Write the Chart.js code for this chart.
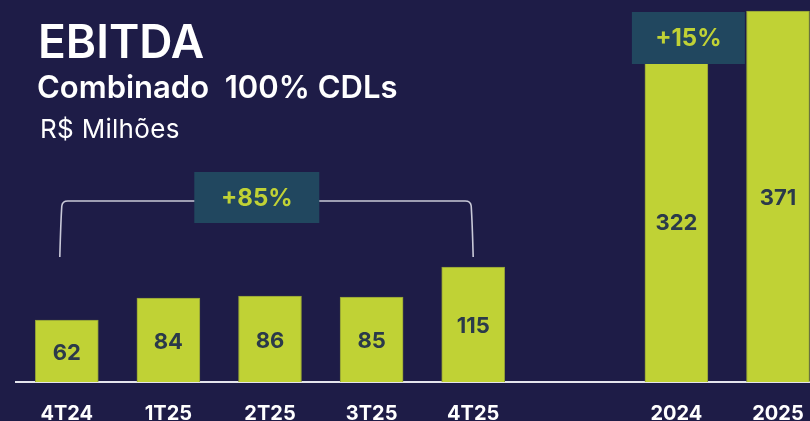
<!DOCTYPE html>
<html lang="pt-BR">
<head>
<meta charset="utf-8">
<title>EBITDA Combinado 100% CDLs</title>
<script src="https://cdn.jsdelivr.net/npm/chart.js@4.4.1/dist/chart.umd.min.js"></script>
<style>
  html, body { margin: 0; padding: 0; background: #1e1c47; overflow: hidden; }
  #wrap { position: relative; width: 810px; height: 421px; }
  #chart { position: absolute; left: 0; top: 0; }
  .hdr { position: absolute; color: #ffffff; font-family: Inter, "Open Sans", sans-serif; white-space: pre; line-height: 1; }
  #t1 { left: 38px; top: 18px; font-size: 46px; font-weight: 600; }
  #t2 { left: 37px; top: 71px; font-size: 31px; font-weight: 600; }
  #t3 { left: 40px; top: 116px; font-size: 26px; font-weight: 400; letter-spacing: 0.3px; }
</style>
</head>
<body>
<div id="wrap">
  <canvas id="chart" width="810" height="421"></canvas>
  <div class="hdr" id="t1">EBITDA</div>
  <div class="hdr" id="t2">Combinado  100% CDLs</div>
  <div class="hdr" id="t3">R$ Milhões</div>
</div>
<script>
// Periods on the x axis (empty slot separates quarters from full years)
const categories = ['4T24', '1T25', '2T25', '3T25', '4T25', '', '2024', '2025'];
// EBITDA, R$ milhões
const values = [62, 84, 86, 85, 115, null, 322, 371];
// Growth call-outs
const growthQuarter = '+85%';
const growthYear = '+15%';

const LIME = '#c0d235';
const LIME_EDGE = '#8f9c38';
const BOX = '#21475f';
const VALUE_TEXT = '#2b3a4a';
const FONT = 'Inter, "Open Sans", sans-serif';

const points = [];
categories.forEach((c, i) => {
  if (values[i] !== null) points.push({ x: i, y: values[i] });
});

// Value labels inside each bar, centred vertically
const valueLabels = {
  id: 'valueLabels',
  afterDatasetsDraw(chart) {
    const { ctx } = chart;
    const meta = chart.getDatasetMeta(0);
    ctx.save();
    ctx.font = `700 22px ${FONT}`;
    ctx.fillStyle = VALUE_TEXT;
    ctx.textAlign = 'center';
    ctx.textBaseline = 'middle';
    meta.data.forEach((bar, k) => {
      const v = points[k].y;
      const midY = (bar.y + bar.base) / 2 + 2;
      ctx.fillText(String(v), bar.x, midY);
    });
    ctx.restore();
  }
};

// Bracket over the quarters and the two growth boxes
const growthMarks = {
  id: 'growthMarks',
  afterDatasetsDraw(chart) {
    const { ctx } = chart;
    const x = chart.scales.x;
    const y = chart.scales.y;

    ctx.save();
    // bracket spanning 4T24 .. 4T25
    const left = x.getPixelForValue(0) - 7;
    const right = x.getPixelForValue(4);
    const top = y.getPixelForValue(181);
    const foot = y.getPixelForValue(125);
    const r = 5;
    ctx.strokeStyle = '#c9c9d8';
    ctx.lineWidth = 1.6;
    ctx.beginPath();
    ctx.moveTo(left, foot);
    ctx.quadraticCurveTo(left + 1, top + 20, left + 2, top + r);
    ctx.quadraticCurveTo(left + 2.5, top, left + r + 3, top);
    ctx.lineTo(right - r - 3, top);
    ctx.quadraticCurveTo(right - 2.5, top, right - 2, top + r);
    ctx.quadraticCurveTo(right - 1, top + 20, right, foot);
    ctx.stroke();

    const drawBox = (cx, boxTop, w, h, text) => {
      ctx.fillStyle = BOX;
      ctx.fillRect(cx - w / 2, boxTop, w, h);
      ctx.fillStyle = LIME;
      ctx.font = `700 24px ${FONT}`;
      ctx.textAlign = 'center';
      ctx.textBaseline = 'middle';
      ctx.fillText(text, cx, boxTop + h / 2 + 1);
    };

    // quarter growth box on the bracket
    drawBox(x.getPixelForValue(1.87), y.getPixelForValue(210), 125, 51, growthQuarter);
    // annual growth box over the 2024 bar
    drawBox(x.getPixelForValue(6) + 12, y.getPixelForValue(370), 113, 52, growthYear);
    ctx.restore();
  }
};

new Chart(document.getElementById('chart'), {
  type: 'bar',
  data: {
    datasets: [{
      data: points,
      backgroundColor: LIME,
      borderColor: LIME_EDGE,
      borderWidth: 1,
      borderSkipped: 'bottom',
      barThickness: 63
    }]
  },
  options: {
    responsive: false,
    animation: false,
    events: [],
    layout: { padding: { left: 16, right: 0, top: 0, bottom: 0 } },
    plugins: { legend: { display: false }, tooltip: { enabled: false } },
    scales: {
      x: {
        type: 'linear',
        offset: false,
        min: -0.5,
        max: 7.315,
        grid: { display: false, drawTicks: false },
        border: { display: true, color: '#e4e4ec', width: 2 },
        afterBuildTicks(scale) {
          scale.ticks = categories
            .map((c, i) => ({ value: i, label: c }))
            .filter(t => t.label !== '');
        },
        afterFit(scale) {
          scale.height = 39;
          scale.paddingLeft = 0;
          scale.paddingRight = 0;
        },
        ticks: {
          autoSkip: false,
          maxRotation: 0,
          padding: 20,
          color: '#ffffff',
          font: { family: FONT, size: 20, weight: '700' },
          callback: (v) => categories[v]
        }
      },
      y: {
        display: false,
        min: 0,
        max: 382
      }
    }
  },
  plugins: [valueLabels, growthMarks]
});
</script>
</body>
</html>
